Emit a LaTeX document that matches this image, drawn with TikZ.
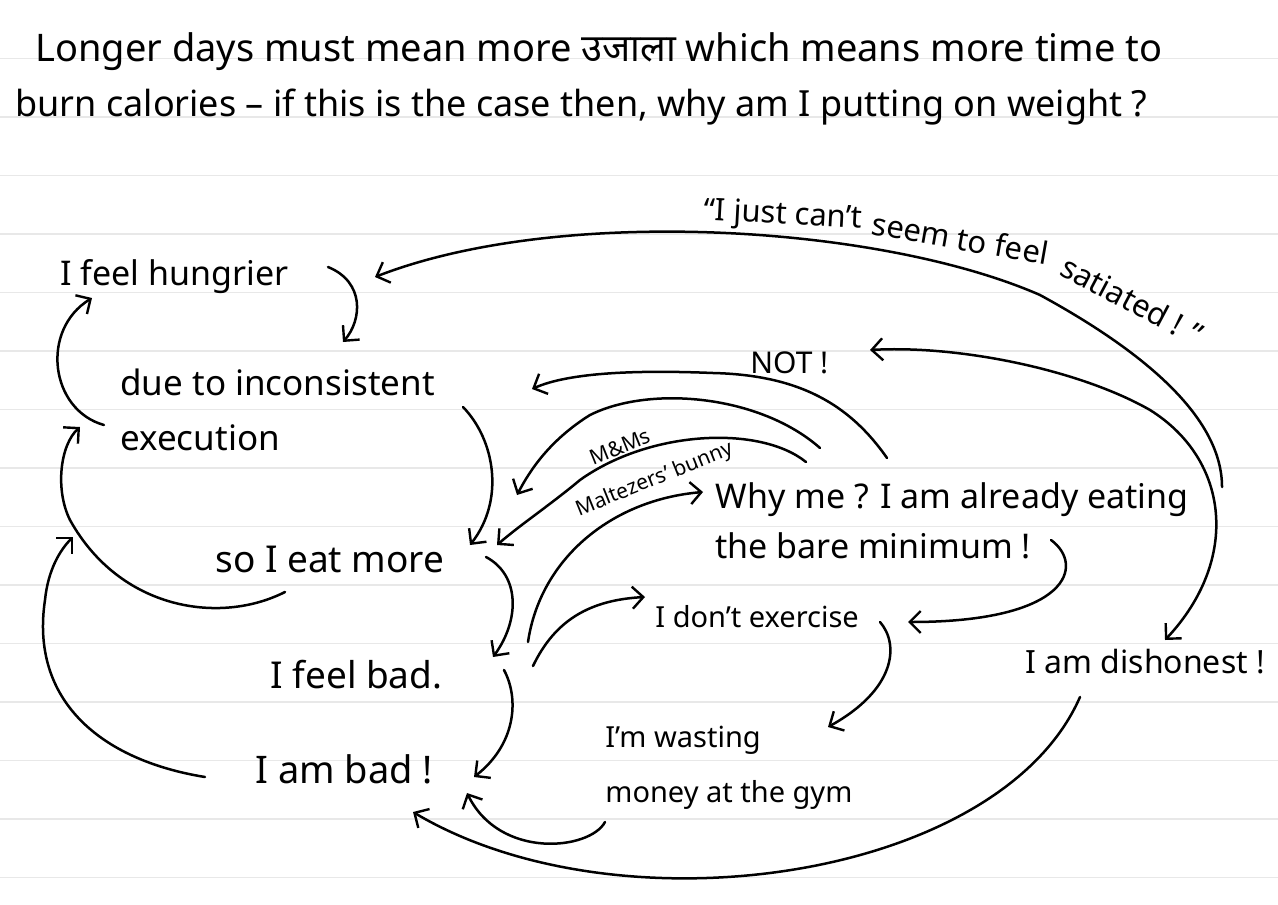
\documentclass[tikz,border=0pt]{standalone}
\usepackage{fontspec}
\setmainfont{Noto Sans}
\newfontfamily\deva[Script=Devanagari]{Noto Sans}
\usetikzlibrary{arrows.meta}
\tikzset{
  ruled/.style={draw=black!9, line width=0.8pt},
  conn/.style={draw=black, line width=1.25pt, line cap=round,
    -{Straight Barb[length=5.5pt,width=11pt,line width=1.2pt]}},
  conntwo/.style={draw=black, line width=1.25pt, line cap=round,
    {Straight Barb[length=5.5pt,width=11pt,line width=1.2pt]}-{Straight Barb[length=5.5pt,width=11pt,line width=1.2pt]}},
  lbl/.style={inner sep=0pt, anchor=base west, font=\fontsize{#1}{27.5}\selectfont},
  lbl/.default=15.5,
  ttl/.style={inner sep=0pt, anchor=base west, font=\fontsize{#1}{27.5}\selectfont},
  small/.style={inner sep=0pt, font=\fontsize{10.5}{12}\selectfont},
}
\begin{document}
\begin{tikzpicture}[x=0.5pt,y=-0.5pt]
\useasboundingbox[fill=white] (0,0) rectangle (1278,904);
% ruled paper
\foreach \k in {1,...,15} \draw[ruled] (0,58.5*\k) -- (1278,58.5*\k);

% title
\node[ttl=19] (t1) at (35,62) {Longer days must mean more {\deva उजाला} which means more time to};
\node[ttl=18] (t2) at (15,117) {burn calories -- if this is the case then, why am I putting on weight ?};

% labels (multi-line nodes: base = last line)
\node[lbl=17] (hungrier) at (60,285) {I feel hungrier};
\node[lbl=17.5, align=left] (due) at (120,450) {due to inconsistent\\execution};
\node[lbl=18.5] (eat) at (215,572) {so I eat more};
\node[lbl=18.5] (feelbad) at (270,688) {I feel bad.};
\node[lbl=19] (ambad) at (255,783) {I am bad !};
\node[lbl=14.5, align=left] (wasting) at (605,802) {I'm wasting\\money at the gym};
\node[lbl=14.5] (exercise) at (655,627) {I don't exercise};
\node[lbl, align=left, font=\fontsize{17}{25}\selectfont] (whyme) at (715,558) {Why me ? I am already eating\\the bare minimum !};
\node[lbl=16] (dishonest) at (1025,673) {I am dishonest !};
\node[lbl=15] (not) at (750,373) {NOT !};
\node[small, rotate=22] (mms) at (620,447) {M\&Ms};
\node[small, rotate=22] (malt) at (655,480) {Maltezers' bunny};

% satiated quote, following the curve
\node[lbl=15.5, rotate=-3] (sat1) at (703,220) {“I just can't};
\node[lbl=15.5, rotate=-10] (sat2) at (870,234) {seem to feel};
\node[lbl=15.5, rotate=-28] (sat3) at (1058,274) {satiated ! ”};

% satiated arrow -> hungrier
\coordinate (satstart) at ([shift={(507,-71)}]whyme.base west);
\draw[conn] (satstart) .. controls (1222,420) and (1150,355) .. (1040,295)
   .. controls (880,225) and (560,205) .. ([shift={(315,-8)}]hungrier.base west);

% hungrier -> due
\draw[conn] ([shift={(268,-18)}]hungrier.base west) .. controls (365,282) and (362,320) .. ([shift={(223,-108)}]due.base west);

% due -> hungrier (left)
\draw[conn] ([shift={(-16,-25)}]due.base west) .. controls (50,410) and (40,330) .. ([shift={(32,13)}]hungrier.base west);

% eat -> due (left loop)
\draw[conn] ([shift={(70,20)}]eat.base west) .. controls (220,625) and (120,610) .. (70,520)
   .. controls (55,490) and (60,445) .. ([shift={(-40,-23)}]due.base west);

% ambad -> left loop
\draw[conn] ([shift={(-50,-6)}]ambad.base west) .. controls (100,760) and (30,700) .. (45,600)
   .. controls (48,570) and (60,550) .. ([shift={(-142,-35)}]eat.base west);

% due -> eat
\draw[conn] ([shift={(343,-43)}]due.base west) .. controls (495,440) and (505,500) .. ([shift={(255,-27)}]eat.base west);

% eat -> feelbad
\draw[conn] ([shift={(271,-15)}]eat.base west) .. controls (520,575) and (520,620) .. ([shift={(223,-31)}]feelbad.base west);

% feelbad -> ambad
\draw[conn] ([shift={(234,-18)}]feelbad.base west) .. controls (520,700) and (515,745) .. ([shift={(219,-6)}]ambad.base west);

% feelbad -> whyme
\draw[conn] ([shift={(258,-46)}]feelbad.base west) .. controls (540,560) and (610,500) .. ([shift={(-12,-66)}]whyme.base west);

% feelbad -> exercise
\draw[conn] ([shift={(263,-22)}]feelbad.base west) .. controls (555,620) and (590,600) .. ([shift={(-10,-30)}]exercise.base west);

% whyme -> due (top arc)
\draw[conn] ([shift={(172,-100)}]whyme.base west) .. controls (850,405) and (800,375) .. (713,373)
   .. controls (640,370) and (570,372) .. ([shift={(412,-61)}]due.base west);

% whyme -> eat (middle arc)
\draw[conn] ([shift={(105,-110)}]whyme.base west) .. controls (760,395) and (650,385) .. (590,415)
   .. controls (550,440) and (530,470) .. ([shift={(302,-77)}]eat.base west);

% whyme -> eat (inner arc)
\draw[conn] ([shift={(91,-96)}]whyme.base west) .. controls (760,425) and (650,430) .. (580,480)
   .. controls (550,505) and (520,525) .. ([shift={(282,-27)}]eat.base west);

% whyme -> exercise
\draw[conn] ([shift={(336,-18)}]whyme.base west) .. controls (1085,565) and (1070,622) .. ([shift={(253,-5)}]exercise.base west);

% exercise -> wasting
\draw[conn] ([shift={(225,-5)}]exercise.base west) .. controls (900,645) and (895,690) .. ([shift={(223,-75)}]wasting.base west);

% wasting -> ambad
\draw[conn] ([shift={(0,20)}]wasting.base west) .. controls (590,850) and (500,860) .. ([shift={(212,10)}]ambad.base west);

% dishonest -> ambad
\draw[conn] ([shift={(55,24)}]dishonest.base west) .. controls (1000,880) and (620,935) .. ([shift={(158,29)}]ambad.base west);

% NOT <-> dishonest
\draw[conntwo] ([shift={(120,-23)}]not.base west) .. controls (960,345) and (1080,370) .. (1150,410)
   .. controls (1230,460) and (1240,560) .. ([shift={(140,-33)}]dishonest.base west);
\end{tikzpicture}
\end{document}
